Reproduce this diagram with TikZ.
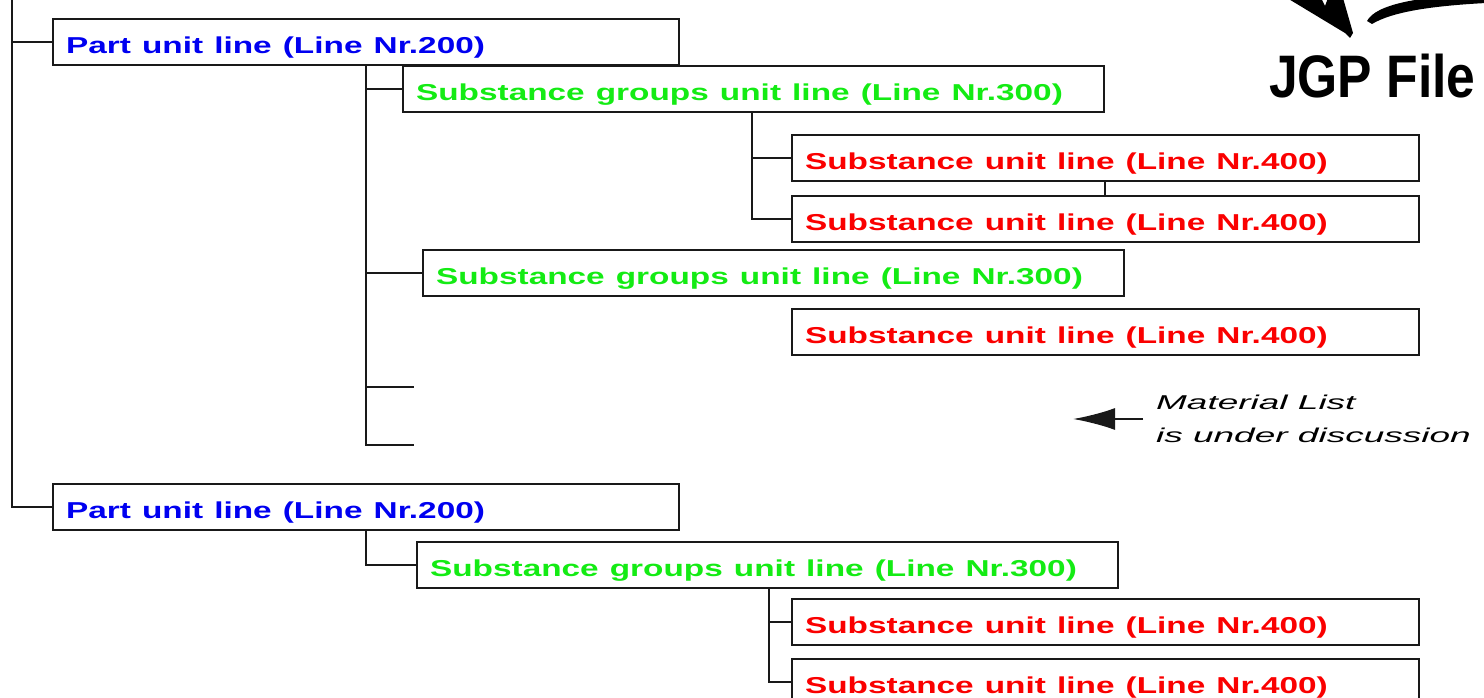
\documentclass[tikz,border=0pt]{standalone}
\usepackage{fontspec}
\setmainfont{Liberation Sans}
\usepackage{graphicx}
\usetikzlibrary{positioning,arrows.meta}

\definecolor{partblue}{RGB}{0,0,240}
\definecolor{groupgreen}{RGB}{20,235,20}
\definecolor{substred}{RGB}{250,0,0}

\newcommand{\wide}[1]{\scalebox{1.45}[1]{#1}}
\newcommand{\wideit}[1]{\scalebox{1.85}[1]{#1}}

\begin{document}
\begin{tikzpicture}[x=1pt,y=-1pt,line width=2.2pt,draw=black!90,
    box/.style={draw=black!90,anchor=north west,inner xsep=13pt,inner ysep=0pt,
                text height=26pt,text depth=3pt,
                minimum height=46pt,align=left,font=\fontsize{23}{26}\selectfont\bfseries},
    partbox/.style={box,text=partblue,text width=600pt},
    groupbox/.style={box,text=groupgreen,text width=675pt},
    substbox/.style={box,text=substred,text width=601pt}]

  \clip (0,0) rectangle (1484,698);

  \coordinate (trunk)  at (12,0);
  \coordinate (spineA) at (366,0);
  \coordinate (spineB) at (752,0);
  \coordinate (spineC) at (769,0);
  \coordinate (linkx)  at (1105,0);
  \coordinate (stubA)  at (414,387);
  \coordinate (stubB)  at (414,445);
  \coordinate (tip)    at (1073,419);

  \node[box,minimum width=398pt] (root)   at (-30,-50) {};
  \node[partbox]  (partA)                  at (52,18)   {\wide{Part unit line (Line Nr.200)}};
  \node[groupbox] (groupA)                 at (402,65)  {\wide{Substance groups unit line (Line Nr.300)}};
  \node[substbox] (substA)                 at (791,134) {\wide{Substance unit line (Line Nr.400)}};
  \node[substbox] (substB) [below=13pt of substA]       {\wide{Substance unit line (Line Nr.400)}};
  \node[groupbox] (groupB)                 at (422,249) {\wide{Substance groups unit line (Line Nr.300)}};
  \node[substbox] (substC)                 at (791,308) {\wide{Substance unit line (Line Nr.400)}};
  \node[partbox]  (partB)                  at (52,483)  {\wide{Part unit line (Line Nr.200)}};
  \node[groupbox] (groupC)                 at (416,541) {\wide{Substance groups unit line (Line Nr.300)}};
  \node[substbox] (substD)                 at (791,598) {\wide{Substance unit line (Line Nr.400)}};
  \node[substbox] (substE) [below=12pt of substD]       {\wide{Substance unit line (Line Nr.400)}};

  \node[anchor=west,align=left,inner xsep=12pt,font=\fontsize{20}{33}\selectfont\itshape]
       (note) at (1143,419) {\wideit{Material List}\\\wideit{is under discussion}};
  \node[anchor=base west,inner sep=0pt,font=\fontsize{60}{60}\selectfont\bfseries]
       (jgp) at (1268,98) {\scalebox{0.86}[1]{JGP File}};

  \draw (root.south -| trunk)    |- (partA.west);
  \draw (root.south -| trunk)    |- (partB.west);
  \draw (partA.south -| spineA)  |- (groupA.west);
  \draw (partA.south -| spineA)  |- (groupB.west);
  \draw (partA.south -| spineA)  |- (stubA);
  \draw (partA.south -| spineA)  |- (stubB);
  \draw (groupA.south -| spineB) |- (substA.west);
  \draw (groupA.south -| spineB) |- (substB.west);
  \draw (substA.south -| linkx)  -- (substB.north -| linkx);
  \draw (partB.south -| spineA)  |- (groupC.west);
  \draw (groupC.south -| spineC) |- (substD.west);
  \draw (groupC.south -| spineC) |- (substE.west);
  \draw[-{Latex[length=42pt,width=22pt]}] (note.west) -- (tip);

  % brush strokes above the title
  \fill (1287,-2) -- (1345,33) -- (1350,38) -- (1353,33) -- (1343,-2)
        -- (1328,-2) -- (1325,6) -- (1321,-2) -- cycle;
  \fill (1367,21) .. controls (1376,4) and (1420,-4) .. (1486,-6)
        -- (1486,3) .. controls (1430,6) and (1392,12) .. (1372,24) -- cycle;
\end{tikzpicture}
\end{document}
